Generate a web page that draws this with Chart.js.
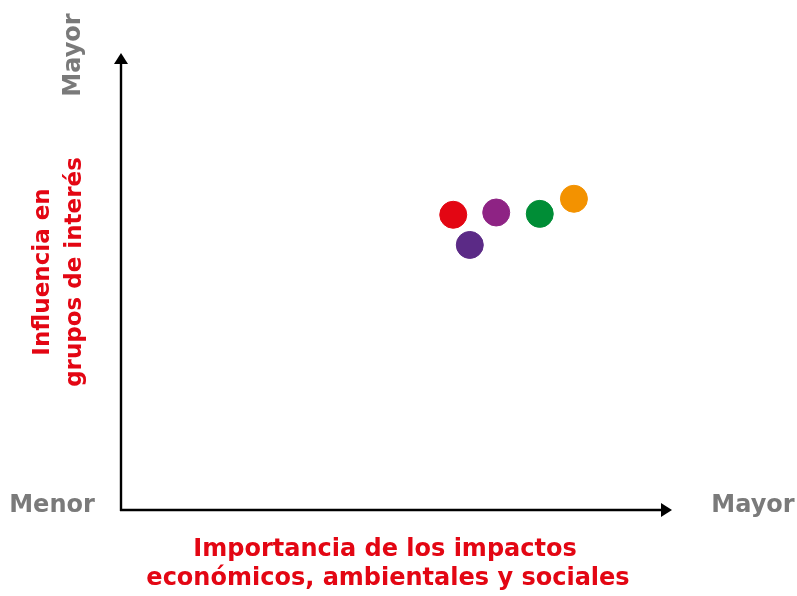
<!DOCTYPE html>
<html><head><meta charset="utf-8">
<script src="https://cdn.jsdelivr.net/npm/chart.js@4/dist/chart.umd.min.js"></script>
<style>html,body{margin:0;padding:0;background:#fff;}#wrap{width:797px;height:596px;position:relative;}</style>
</head><body><div id="wrap"><canvas id="c" width="797" height="596"></canvas></div>
<script>
const labels = ["Rojo","Magenta","Verde","Naranja","Morado"];
const xValues = [60.3, 68.1, 76.0, 82.2, 63.3];
const yValues = [64.6, 65.1, 64.8, 68.1, 58.0];
const colors = ["#e30613","#8e2384","#008d36","#f39200","#5b2a86"];
const axisLow = "Menor";
const axisHigh = "Mayor";
const xTitle = ["Importancia de los impactos","económicos, ambientales y sociales"];
const yTitle = ["Influencia en","grupos de interés"];

const FONT = "'DejaVu Sans', sans-serif";
const RED = "#e30613";
const GRAY = "#7a7a7a";

const decor = {
  id: 'decor',
  beforeDatasetsDraw(chart) {
    const {ctx, chartArea: a} = chart;
    ctx.save();
    ctx.strokeStyle = '#000'; ctx.fillStyle = '#000'; ctx.lineWidth = 2.4;
    ctx.beginPath(); ctx.moveTo(a.left, a.bottom + 1); ctx.lineTo(a.left, a.top + 9); ctx.stroke();
    ctx.beginPath(); ctx.moveTo(a.left, a.top); ctx.lineTo(a.left - 7, a.top + 11); ctx.lineTo(a.left + 7, a.top + 11); ctx.closePath(); ctx.fill();
    ctx.beginPath(); ctx.moveTo(a.left - 1, a.bottom); ctx.lineTo(a.right - 9, a.bottom); ctx.stroke();
    ctx.beginPath(); ctx.moveTo(a.right, a.bottom); ctx.lineTo(a.right - 11, a.bottom - 7); ctx.lineTo(a.right - 11, a.bottom + 7); ctx.closePath(); ctx.fill();
    ctx.restore();
  },
  afterDraw(chart) {
    const {ctx, chartArea: a} = chart;
    ctx.save();
    ctx.fillStyle = GRAY;
    ctx.font = "bold 24px " + FONT;
    ctx.textBaseline = 'middle';
    ctx.textAlign = 'center';
    ctx.fillText(axisLow, 52, a.bottom - 4);
    ctx.fillText(axisHigh, 753, a.bottom - 4);
    ctx.save(); ctx.translate(74, 55); ctx.rotate(-Math.PI/2); ctx.fillText(axisHigh, 0, 0); ctx.restore();
    ctx.fillStyle = RED;
    ctx.font = "bold 24px " + FONT;
    ctx.fillText(xTitle[0], 385, 550);
    ctx.fillText(xTitle[1], 388, 579);
    ctx.font = "bold 23px " + FONT;
    ctx.save(); ctx.translate(43, 272); ctx.rotate(-Math.PI/2);
    ctx.fillText(yTitle[0], 0, 0);
    ctx.fillText(yTitle[1], 0, 32);
    ctx.restore();
    ctx.restore();
  }
};

new Chart(document.getElementById('c'), {
  type: 'scatter',
  data: {
    datasets: [{
      data: xValues.map((x, i) => ({x, y: yValues[i]})),
      backgroundColor: colors,
      borderColor: colors,
      borderWidth: 1,
      pointRadius: 13.5,
      pointHoverRadius: 13.5
    }]
  },
  options: {
    responsive: false, animation: false,
    layout: {padding: {left: 121, right: 125, top: 53, bottom: 86}},
    plugins: {legend: {display: false}, tooltip: {enabled: false}},
    scales: {
      x: {display: false, min: 0, max: 100},
      y: {display: false, min: 0, max: 100}
    }
  },
  plugins: [decor]
});
</script></body></html>
